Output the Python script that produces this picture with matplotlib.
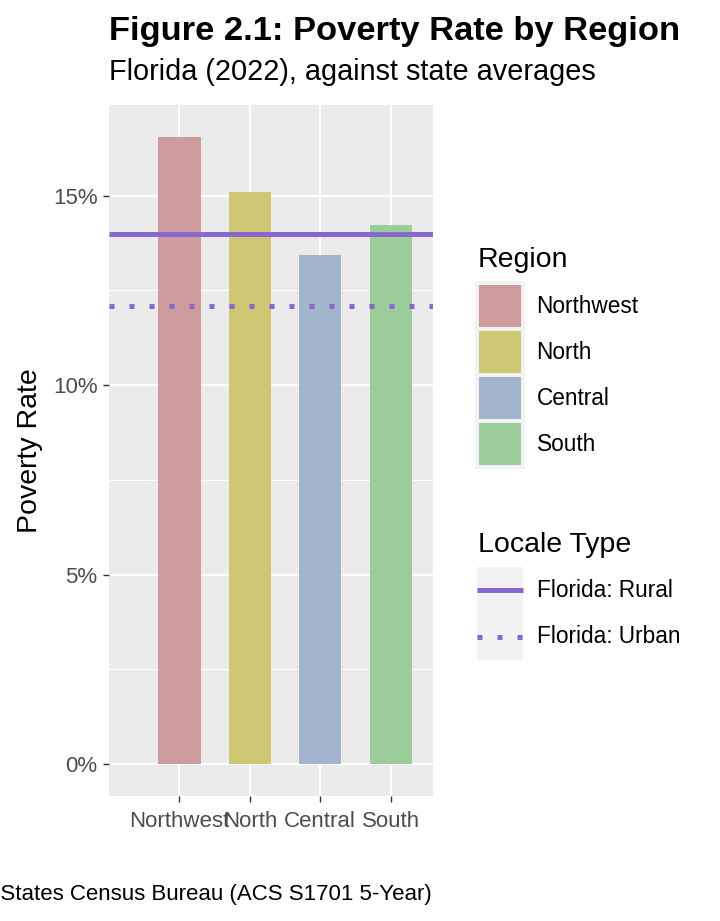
import matplotlib
matplotlib.use("Agg")
import matplotlib.pyplot as plt
from matplotlib.patches import Patch
from matplotlib.lines import Line2D
from matplotlib.legend_handler import HandlerLine2D
from matplotlib.ticker import FixedLocator, FuncFormatter

plt.rcParams["font.family"] = ["Liberation Sans", "DejaVu Sans"]

# data (poverty rate, %)
regions = ["Northwest", "North", "Central", "South"]
rates = [16.55, 15.1, 13.42, 14.23]
bar_colors = ["#CD9B9B", "#CDC673", "#A2B5CD", "#9BCD9B"]
locale_labels = ["Florida: Rural", "Florida: Urban"]
locale_rates = [14.0, 12.1]
line_color = "#8968CD"
yticks = [0, 5, 10, 15]
yminor = [2.5, 7.5, 12.5]

W, H = 720, 921
fig = plt.figure(figsize=(W / 100, H / 100), dpi=100)

def px(x, y):
    # pixel coords (from top-left) -> figure fraction
    return x / W, 1 - y / H

left, right, top, bottom = 109, 433, 105, 795.7
ax = fig.add_axes([left / W, 1 - bottom / H, (right - left) / W, (bottom - top) / H])
ax.set_facecolor("#EBEBEB")
for s in ax.spines.values():
    s.set_visible(False)

xpos = list(range(len(regions)))
ax.bar(xpos, rates, width=0.6, color=bar_colors, zorder=3)
ax.axhline(locale_rates[0], color=line_color, lw=3.6, solid_capstyle="butt", zorder=4)
ax.axhline(locale_rates[1], color=line_color, lw=3.6, ls=(0, (1, 3)),
           dash_capstyle="butt", zorder=4)

ax.set_xlim(-1.0, 3.6)
ax.set_ylim(-0.83, 17.39)
ax.set_xticks(xpos)
ax.set_xticklabels(regions)
ax.yaxis.set_major_locator(FixedLocator(yticks))
ax.yaxis.set_minor_locator(FixedLocator(yminor))
ax.yaxis.set_major_formatter(FuncFormatter(lambda v, p: f"{v:.0f}%"))
ax.grid(which="major", color="white", lw=1.44, zorder=1)
ax.grid(which="minor", axis="y", color="white", lw=0.72, zorder=1)
ax.set_axisbelow(True)
ax.tick_params(which="major", length=4.3, width=1.0, color="#333333",
               labelcolor="#4D4D4D", labelsize=16, pad=4)
ax.tick_params(axis="x", which="major", pad=7)
ax.tick_params(which="minor", length=0)

ax.set_ylabel("Poverty Rate", fontsize=20.5, color="black")
ax.yaxis.set_label_coords((43 - left) / (right - left), 0.5)

# titles and caption
fig.text(*px(109, 40), "Figure 2.1: Poverty Rate by Region", fontsize=24.8,
         fontweight="bold", va="baseline", ha="left")
fig.text(*px(109, 80), "Florida (2022), against state averages", fontsize=20.8,
         va="baseline", ha="left")
fig.text(*px(432, 900), "Source: United States Census Bureau (ACS S1701 5-Year)",
         fontsize=16, va="baseline", ha="right")

# legends
fs = 16.3
fpx = fs * 100 / 72

def hh(box_px):
    # legend handleheight that gives a key box of box_px pixels
    return (box_px / fpx - 0.245) / 0.65


class CenterLine(HandlerLine2D):
    # put the key line in the middle of the key box
    def create_artists(self, legend, orig_handle, xdescent, ydescent,
                       width, height, fontsize, trans):
        arts = super().create_artists(legend, orig_handle, xdescent, ydescent,
                                      width, height, fontsize, trans)
        for a in arts:
            a.set_ydata([height / 2 - ydescent] * len(a.get_ydata()))
        return arts


fig.text(*px(478, 267), "Region", fontsize=20.5, va="baseline", ha="left")
reg_handles = [Patch(facecolor=c, edgecolor="#F2F2F2", linewidth=2.88) for c in bar_colors]
leg1 = fig.legend(reg_handles, regions, loc="upper left",
                  bbox_to_anchor=px(477, 283), bbox_transform=fig.transFigure,
                  frameon=False, fontsize=fs, borderpad=0, borderaxespad=0,
                  handlelength=46 / fpx, handleheight=hh(46),
                  labelspacing=0, handletextpad=0.6)

fig.text(*px(478, 552), "Locale Type", fontsize=20.5, va="baseline", ha="left")
bg = Patch(facecolor="#F2F2F2", edgecolor="none")
loc_handles = [
    (bg, Line2D([], [], color=line_color, lw=3.6, solid_capstyle="butt")),
    (bg, Line2D([], [], color=line_color, lw=3.6, ls=(0, (1, 3)), dash_capstyle="butt")),
]
leg2 = fig.legend(loc_handles, locale_labels, loc="upper left",
                  bbox_to_anchor=px(477, 567), bbox_transform=fig.transFigure,
                  frameon=False, fontsize=fs, borderpad=0, borderaxespad=0,
                  handlelength=46 / fpx, handleheight=hh(46.5),
                  labelspacing=0, handletextpad=0.6,
                  handler_map={Line2D: CenterLine()})

fig.savefig("out.png", dpi=100)
